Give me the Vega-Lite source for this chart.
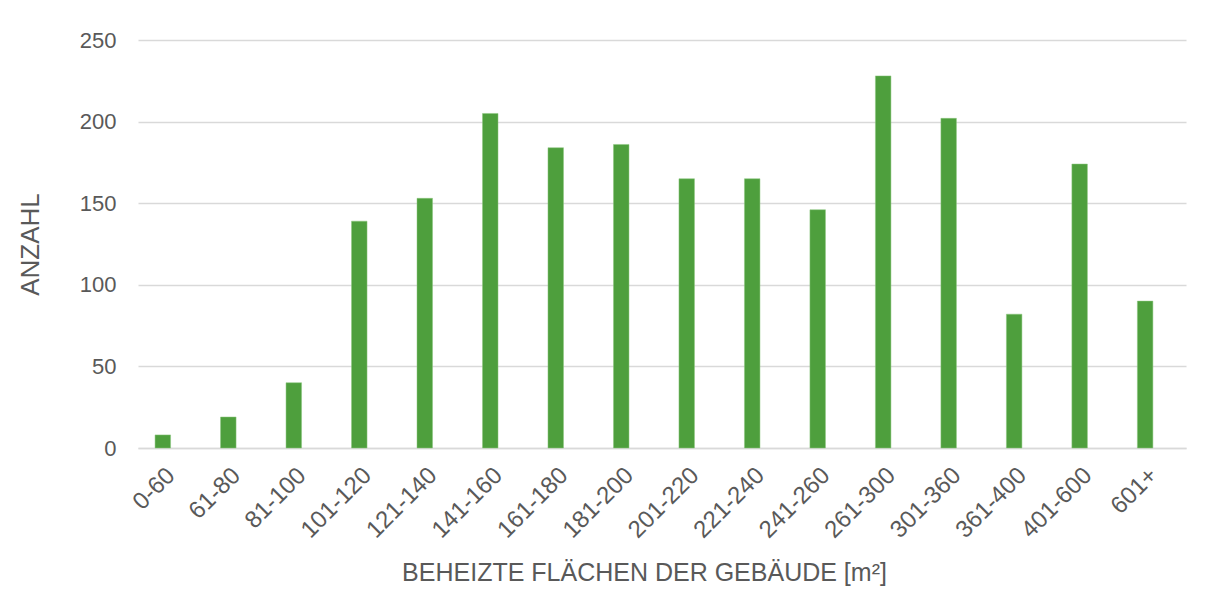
{
  "$schema": "https://vega.github.io/schema/vega-lite/v6.json",
  "autosize": {"type": "none"},
  "width": 1048,
  "height": 408,
  "padding": {"left": 138, "top": 40, "right": 25, "bottom": 160},
  "background": "white",
  "data": {
    "values": [
      {"flaeche": "0-60", "anzahl": 8},
      {"flaeche": "61-80", "anzahl": 19},
      {"flaeche": "81-100", "anzahl": 40},
      {"flaeche": "101-120", "anzahl": 139},
      {"flaeche": "121-140", "anzahl": 153},
      {"flaeche": "141-160", "anzahl": 205},
      {"flaeche": "161-180", "anzahl": 184},
      {"flaeche": "181-200", "anzahl": 186},
      {"flaeche": "201-220", "anzahl": 165},
      {"flaeche": "221-240", "anzahl": 165},
      {"flaeche": "241-260", "anzahl": 146},
      {"flaeche": "261-300", "anzahl": 228},
      {"flaeche": "301-360", "anzahl": 202},
      {"flaeche": "361-400", "anzahl": 82},
      {"flaeche": "401-600", "anzahl": 174},
      {"flaeche": "601+", "anzahl": 90}
    ]
  },
  "mark": {"type": "bar", "color": "#4e9f3d", "stroke": "#8cc77f", "strokeWidth": 0.5},
  "encoding": {
    "x": {
      "field": "flaeche",
      "type": "ordinal",
      "sort": null,
      "scale": {"paddingInner": 0.763, "paddingOuter": 0.383, "align": 0.34},
      "axis": {
        "title": "BEHEIZTE FLÄCHEN DER GEBÄUDE [m²]",
        "labelAngle": -45,
        "labelFontSize": 24,
        "labelColor": "#595959",
        "labelFont": "Liberation Sans",
        "labelPadding": 15,
        "ticks": false,
        "domainColor": "#d9d9d9",
        "domainWidth": 1.5,
        "titleFont": "Liberation Sans",
        "titleFontSize": 25,
        "titleFontWeight": "normal",
        "titleColor": "#595959",
        "titleX": 506,
        "titleY": 132,
        "titleAlign": "center",
        "titleBaseline": "alphabetic"
      }
    },
    "y": {
      "field": "anzahl",
      "type": "quantitative",
      "scale": {"domain": [0, 250], "nice": false},
      "axis": {
        "title": "ANZAHL",
        "values": [0, 50, 100, 150, 200, 250],
        "labelFontSize": 22,
        "labelColor": "#595959",
        "labelFont": "Liberation Sans",
        "labelPadding": 22,
        "ticks": false,
        "domain": false,
        "gridColor": "#d9d9d9",
        "gridWidth": 1.5,
        "titleFont": "Liberation Sans",
        "titleFontSize": 26,
        "titleFontWeight": "normal",
        "titleColor": "#595959",
        "titlePadding": 36
      }
    }
  },
  "config": {"view": {"stroke": null}}
}
